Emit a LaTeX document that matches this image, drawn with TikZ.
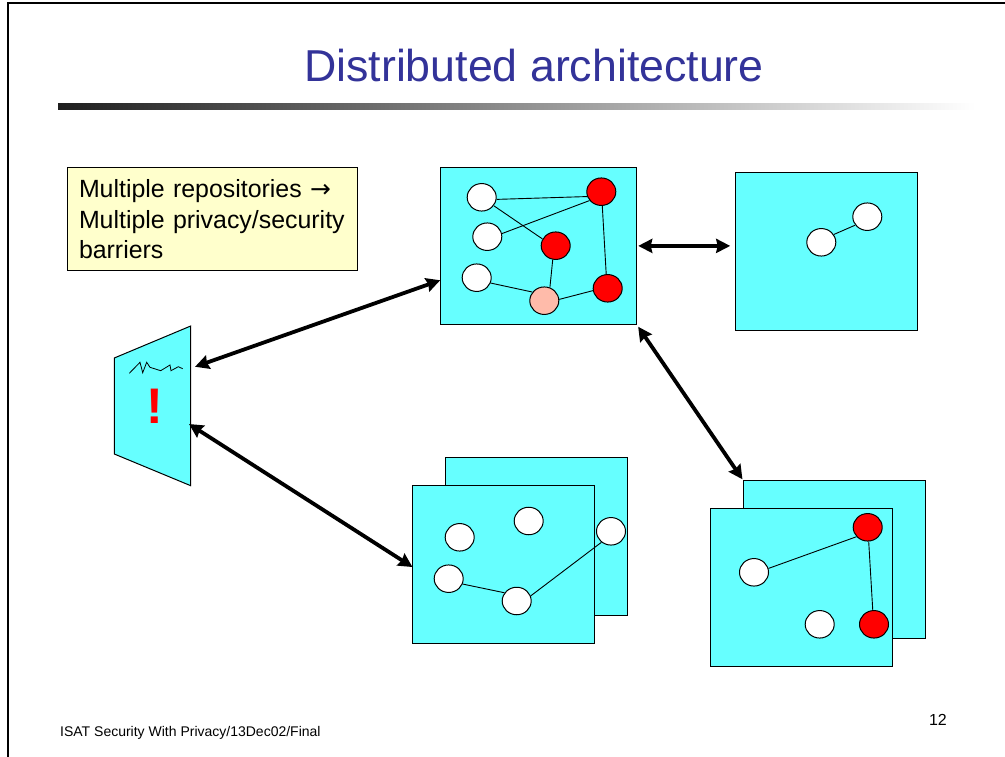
\documentclass[tikz,border=0pt]{standalone}
\usepackage{fontspec}
\setmainfont{Liberation Sans}
\newfontfamily\arrowfont{DejaVu Sans}
\usetikzlibrary{shapes.geometric,arrows.meta,calc}
\definecolor{repocyan}{RGB}{102,255,255}
\definecolor{noteyellow}{RGB}{255,255,204}
\definecolor{titleblue}{RGB}{51,51,153}
\definecolor{hostpink}{RGB}{255,187,170}
\begin{document}
\begin{tikzpicture}[x=1pt,y=-1pt,
	>={Stealth[length=14pt,width=14pt,inset=1.5pt]},
	panelstyle/.style={draw,fill=repocyan,line width=1pt,inner sep=0pt,outer sep=0pt,minimum width=182.4pt,minimum height=157.5pt},
	whitedot/.style={draw,fill=white,ellipse,line width=1pt,inner sep=0pt,minimum width=29pt,minimum height=27.5pt},
	reddot/.style={whitedot,fill=red},
	pinkdot/.style={whitedot,fill=hostpink},
	linkstyle/.style={line width=0.9pt},
	arrowstyle/.style={<->,line width=3.8pt}]
	
	\useasboundingbox (0,0) rectangle (1005,757);
	
	\draw[line width=2pt] (8,757) -- (8,3) -- (1005,3);
	\node[anchor=base,text=titleblue,font=\fontsize{44.7}{44.7}\selectfont,inner sep=0pt] (title) at (534,81.3) {Distributed architecture};
	\shade[left color=black!88,right color=white] (58,104) rectangle (975,110);
	
	\node[draw,fill=noteyellow,line width=1pt,anchor=north west,align=left,inner xsep=11pt,inner ysep=7pt,
		minimum width=289.4pt,minimum height=102.7pt,text width=267pt,
		font=\fontsize{24.9}{30.5}\selectfont] (note) at (67.3,167.3)
		{Multiple repositories {\arrowfont →}\\Multiple privacy/security\\barriers};
	
	\node[panelstyle,minimum width=196.5pt] (repoa) at (538.5,245.9) {};
	\node[panelstyle] (repob) at (826.4,251.3) {};
	\node[panelstyle] (repocback) at (536.5,536.5) {};
	\node[panelstyle] (repoc) at (503.7,564.7) {};
	\node[panelstyle] (repodback) at (834.5,559.3) {};
	\node[panelstyle] (repod) at (801.5,587.5) {};
	
	\coordinate (pnw) at (114.3,358);
	\coordinate (pne) at (190.7,326);
	\coordinate (pse) at (190.7,485.7);
	\coordinate (psw) at (114.3,454);
	\draw[fill=repocyan,line width=1pt] (pnw) -- (pne) -- (pse) -- (psw) -- cycle;
	\draw[line width=0.8pt] (129.3,373.3) -- (140,362.3) -- (142.7,372.7) -- (146.7,362.3) -- (150,367.3) -- (160.7,370.7) -- (170,365) -- (171,370.7) -- (178.3,366.7) -- (182.7,368.7);
	\node[anchor=base,text=red,font=\fontsize{50}{50}\selectfont\bfseries,inner sep=0pt] (alert) at (154.8,423) {!};
	
	\node[whitedot] (aw1) at (481.7,197.3) {};
	\node[whitedot] (aw2) at (487.3,236.7) {};
	\node[whitedot] (aw3) at (476.7,277.7) {};
	\node[reddot] (ar1) at (601.3,191.7) {};
	\node[reddot] (ar2) at (555.7,245.7) {};
	\node[reddot] (ar3) at (607.7,288.3) {};
	\node[pinkdot] (ap) at (544.3,300.7) {};
	\draw[linkstyle] (aw1.-8) -- (ar1.199);
	\draw[linkstyle] (aw1.-35) -- (ar2.153);
	\draw[linkstyle] (aw2.12) -- (ar1.217);
	\draw[linkstyle] (ar1.-86) -- (ar3.96);
	\draw[linkstyle] (ar2.-102) -- (ap.67);
	\draw[linkstyle] (aw3.-21) -- (ap.144);
	\draw[linkstyle] (ap.5) -- (ar3.189);
	
	\node[whitedot] (bw1) at (821.3,242.3) {};
	\node[whitedot] (bw2) at (867.3,216.7) {};
	\draw[linkstyle] (bw1.32) -- (bw2.215);
	
	\node[whitedot] (cw1) at (459.7,537.3) {};
	\node[whitedot] (cw2) at (528.7,521) {};
	\node[whitedot] (cw3) at (611,531.3) {};
	\node[whitedot] (cw4) at (448.7,578.7) {};
	\node[whitedot] (cw5) at (516.7,601) {};
	\draw[linkstyle] (cw4.-21) -- (cw5.146);
	\draw[linkstyle] (cw5.20) -- (cw3.229);
	
	\node[reddot] (dr1) at (867.7,527.3) {};
	\node[reddot] (dr2) at (874,624.3) {};
	\node[whitedot] (dw1) at (754,572.3) {};
	\node[whitedot] (dw2) at (819.7,624.3) {};
	\draw[linkstyle] (dw1.15) -- (dr1.220);
	\draw[linkstyle] (dr1.-86) -- (dr2.95);
	
	\coordinate (portalup) at (195,366.8);
	\coordinate (portaldown) at (189,424);
	\draw[arrowstyle] (portalup) -- ($(repoa.west)!0.436!(repoa.south west)$);
	\draw[arrowstyle] (portaldown) -- ($(repoc.west)!0.03!(repoc.south west)$);
	\draw[arrowstyle,shorten <=1.5pt,shorten >=5pt] (repoa.east) -- (repoa.east -| repob.west);
	\draw[arrowstyle,shorten <=2.5pt,shorten >=1.5pt] (repoa.south east) -- (repodback.north west);
	
	\node[anchor=base west,font=\fontsize{14}{14}\selectfont,inner sep=0pt] (footer) at (60,736.7) {ISAT Security With Privacy/13Dec02/Final};
	\node[anchor=base east,font=\fontsize{16}{16}\selectfont,inner sep=0pt] (pageno) at (947,725.7) {12};
	
\end{tikzpicture}
\end{document}
